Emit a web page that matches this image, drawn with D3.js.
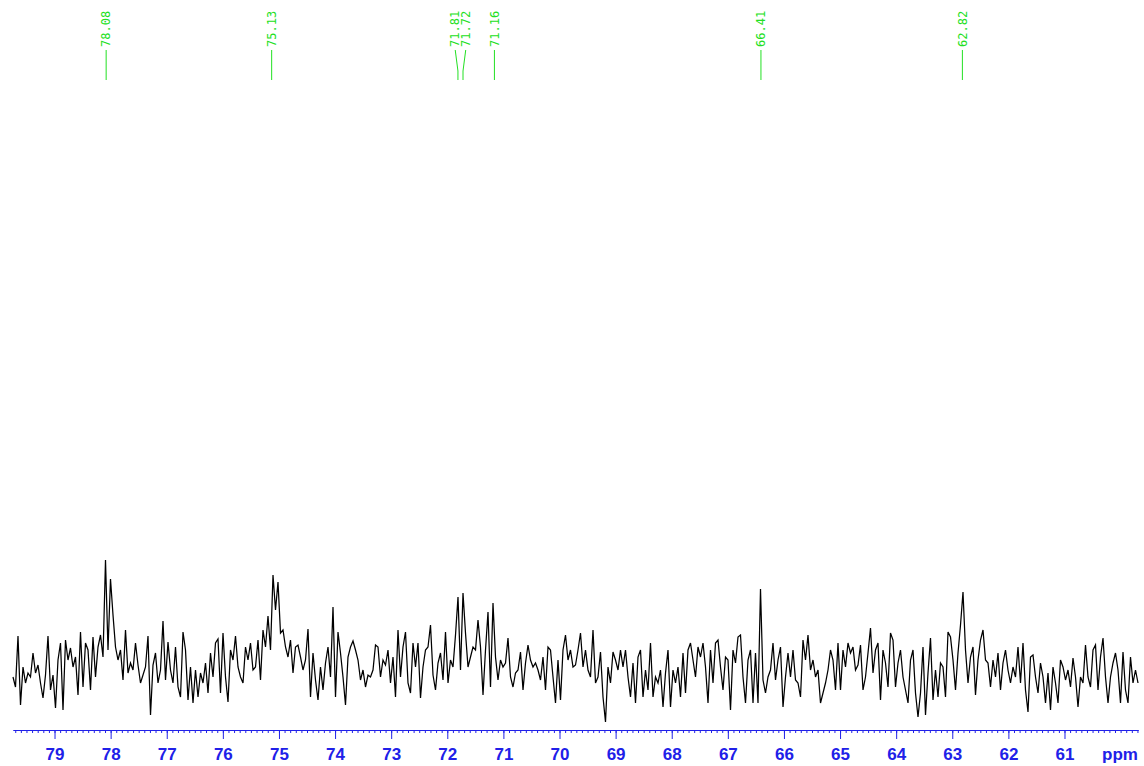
<!DOCTYPE html>
<html>
<head>
<meta charset="utf-8">
<script src="https://cdn.jsdelivr.net/npm/d3@7/dist/d3.min.js"></script>
<style>
  html, body { margin: 0; padding: 0; background: #ffffff; }
  svg { display: block; }
</style>
</head>
<body>
<svg id="chart" width="1144" height="766"></svg>
<script>
// ---- Data ----
const startPpm = 79.74;
const endPpm = 59.69;

// Intensities, evenly spaced in ppm from startPpm to endPpm (four consecutive stretches)
const intensity7975to7465 = [8,-2,49,-20,18,2,12,8,32,12,20,2,-13,10,49,-5,10,-23,25,42,-25,45,25,37,18,28,-10,53,-2,42,35,-5,48,8,38,50,28,125,35,106,70,38,25,35,5,55,12,22,15,42,20,2,10,18,49,-30,20,32,2,15,64,5,43,15,2,38,-2,-12,53,35,-15,18,-18,15,-12,12,2,22,-8,32,8,42,46,-8,52,8,-17,35,25,49,18,8,2,38,25,42,15,18,45,5,55,38,69,35,110,75,103,52,55,38,28,45,12];
const intensity7462to6969 = [38,40,28,15,25,56,-12,32,5,-15,18,-5,22,38,8,78,-12,53,32,8,-20,28,38,44,35,25,5,15,-2,10,8,15,40,38,8,25,20,35,2,28,-12,55,8,38,53,2,-8,42,18,42,-13,18,35,38,60,10,-5,22,32,5,53,2,25,18,50,88,15,92,52,18,28,38,35,65,38,-10,35,73,-2,82,28,5,25,18,22,47,8,-2,12,15,33,-5,22,40,25,18,22,15,5,28,-5,38,35,8,-18,25,-15,35,50,25,35,18];
const intensity6964to6465 = [20,35,52,18,35,15,8,55,2,8,33,-12,-37,18,2,33,25,15,35,18,35,8,-12,22,-18,28,35,-12,15,-5,42,-12,8,2,15,-22,12,35,-22,15,2,18,-12,32,-8,35,42,25,8,38,28,42,18,-18,35,2,42,45,18,-5,28,25,-25,35,22,48,50,8,-18,25,35,-18,32,-18,96,5,-8,8,15,42,5,25,38,-22,8,32,8,35,5,2,-12,45,25,50,15,25,8,15,-18,-8,2,15,35,25,-5,42,-5,35,18,42,32,38,15];
const intensity6460to5969 = [20,40,-5,8,32,57,12,35,42,-15,35,22,-2,52,45,-2,22,35,8,-5,-18,25,35,-8,-32,-8,38,-30,12,47,-15,15,-12,22,18,-12,53,48,25,-5,32,60,93,35,2,28,38,-10,25,45,55,25,22,-2,25,8,32,-5,22,35,15,2,18,8,38,2,42,-5,-27,28,30,8,-8,22,8,-18,12,-25,18,2,-18,25,18,5,15,-2,27,8,-22,8,2,40,8,-2,35,40,-5,28,47,8,-18,8,22,32,15,-18,33,-5,-18,28,2,15,2];

const peakLabels = [78.08, 75.13, 71.81, 71.72, 71.16, 66.41, 62.82];
const majorTicks = [79, 78, 77, 76, 75, 74, 73, 72, 71, 70, 69, 68, 67, 66, 65, 64, 63, 62, 61];
const axisUnit = "ppm";

// ---- Build series ----
const intensities = [].concat(intensity7975to7465, intensity7462to6969, intensity6964to6465, intensity6460to5969);
const n = intensities.length;
const stepPpm = (startPpm - endPpm) / (n - 1);
const spectrum = intensities.map((v, i) => ({ ppm: startPpm - i * stepPpm, v }));

// ---- Scales ----
const svg = d3.select("#chart");
const x = d3.scaleLinear().domain([startPpm, endPpm]).range([13, 1138]);
const y = d3.scaleLinear().domain([-40, 130]).range([725, 555]);

const axisColor = "#2020e8";
const labelColor = "#22e022";

// ---- Spectrum trace ----
svg.append("path")
  .datum(spectrum)
  .attr("fill", "none")
  .attr("stroke", "#000")
  .attr("stroke-width", 1.25)
  .attr("stroke-linejoin", "miter")
  .attr("d", d3.line().x(d => x(d.ppm)).y(d => y(d.v)));

// ---- Axis ----
const minorTicks = d3.range(797, 596, -1).map(t => t / 10);
const gMinor = svg.append("g").attr("transform", "translate(0,730)")
  .call(d3.axisBottom(x).tickValues(minorTicks).tickSize(3).tickSizeOuter(0).tickFormat(""));
const gMajor = svg.append("g").attr("transform", "translate(0,730)")
  .call(d3.axisBottom(x).tickValues(majorTicks).tickSize(9).tickSizeOuter(0).tickFormat(d3.format("d")));
[gMinor, gMajor].forEach(g => {
  g.selectAll("path.domain").attr("stroke", axisColor).attr("stroke-width", 1);
  g.selectAll(".tick line").attr("stroke", axisColor);
});
gMajor.selectAll(".tick text")
  .attr("y", 18).attr("dy", "0.71em")
  .attr("fill", axisColor)
  .style("font-family", "'Liberation Sans', Arial, sans-serif")
  .style("font-size", "17px")
  .style("font-weight", "bold");
svg.append("text")
  .attr("x", 1120).attr("y", 748).attr("dy", "0.71em")
  .attr("text-anchor", "middle")
  .attr("fill", axisColor)
  .style("font-family", "'Liberation Sans', Arial, sans-serif")
  .style("font-size", "17px")
  .style("font-weight", "bold")
  .text(axisUnit);

// ---- Peak labels ----
const lab = peakLabels.map(p => ({ p, px: x(p), lx: x(p) }));
lab.sort((a, b) => a.px - b.px);
const minGap = 10.5;
for (let i = 1; i < lab.length; i++) {
  const gap = lab[i].lx - lab[i - 1].lx;
  if (gap < minGap) {
    const shift = (minGap - gap) / 2;
    lab[i - 1].lx -= shift;
    lab[i].lx += shift;
  }
}
svg.append("defs").append("clipPath").attr("id", "labclip")
  .append("rect").attr("x", 0).attr("y", 11).attr("width", 1144).attr("height", 100);
const gl = svg.append("g").attr("clip-path", "url(#labclip)");
gl.selectAll("path.pl").data(lab).enter().append("path")
  .attr("class", "pl")
  .attr("fill", "none")
  .attr("stroke", labelColor)
  .attr("stroke-width", 1)
  .attr("d", d => `M${d.lx},50 L${d.px},71 L${d.px},80`);
gl.selectAll("text.pt").data(lab).enter().append("text")
  .attr("class", "pt")
  .attr("transform", d => `translate(${d.lx},47) rotate(-90)`)
  .attr("dy", "0.35em")
  .attr("fill", labelColor)
  .style("font-family", "'DejaVu Sans Mono', monospace")
  .style("font-size", "12px")
  .text(d => d.p.toFixed(2));
</script>
</body>
</html>
